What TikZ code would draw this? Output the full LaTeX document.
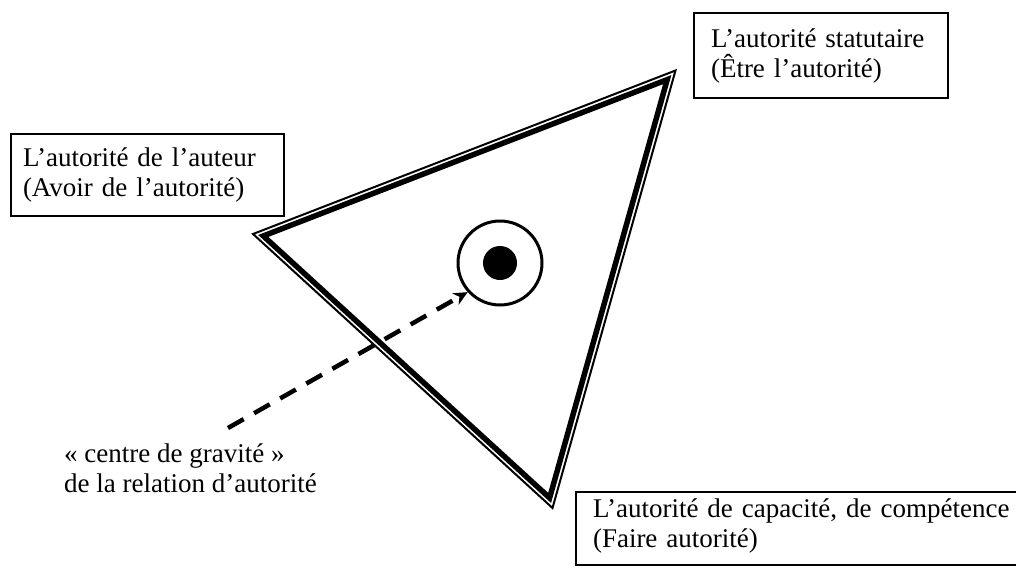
\documentclass[tikz,border=0pt]{standalone}
\usepackage{fontspec}
\setmainfont{Liberation Serif}
\usetikzlibrary{arrows.meta, calc}

\begin{document}
\begin{tikzpicture}[x=1pt, y=-1pt,
    etichetta/.style = {font=\fontsize{27}{30}\selectfont, align=left},
    riquadro/.style = {etichetta, draw, line width=2pt, anchor=north west, inner ysep=0pt},
    tratteggio/.style = {line width=4.5pt, dash pattern=on 18pt off 12pt, -{Stealth[length=14pt, width=13pt]}}]
    % Area del disegno
    \path[use as bounding box, clip] (0,0) rectangle (1016,570);
    % Vertici del triangolo
    \coordinate (A) at (253,234);
    \coordinate (B) at (675.5,70.5);
    \coordinate (C) at (552.5,508);
    \coordinate (I) at (487,278);
    % Triangolo: filo sottile fuori, filo spesso dentro
    \draw[line width=2pt] (A) -- (B) -- (C) -- cycle;
    \draw[line width=5.5pt] ($(I)!0.956!(A)$) -- ($(I)!0.956!(B)$) -- ($(I)!0.956!(C)$) -- cycle;
    % Centro di gravita'
    \node[draw, circle, line width=3pt, minimum size=84pt, inner sep=0pt] (centro) at (500,263) {};
    \fill (centro.center) circle (17pt);
    % Riquadri ai vertici
    \node[riquadro, text width=249pt, inner xsep=12pt, minimum height=82pt] (autore) at (10,133)
        {L’autorité de l’auteur\\(Avoir de l’autorité)};
    \node[riquadro, text width=220pt, inner xsep=17pt, minimum height=85pt] (statuto) at (693,12)
        {L’autorité statutaire\\(Être l’autorité)};
    \node[riquadro, text width=430pt, inner xsep=17pt, inner ysep=7pt, text depth=40pt] (capacita) at (575,491)
        {L’autorité de capacité, de compétence\\(Faire autorité)};
    % Etichetta e freccia
    \node[etichetta, anchor=north west, inner sep=0pt] (gravita) at (64,444)
        {« centre de gravité »\\de la relation d’autorité};
    \coordinate (inizio) at (228,428);
    \draw[tratteggio] (inizio) -- (centro.222);
\end{tikzpicture}
\end{document}
